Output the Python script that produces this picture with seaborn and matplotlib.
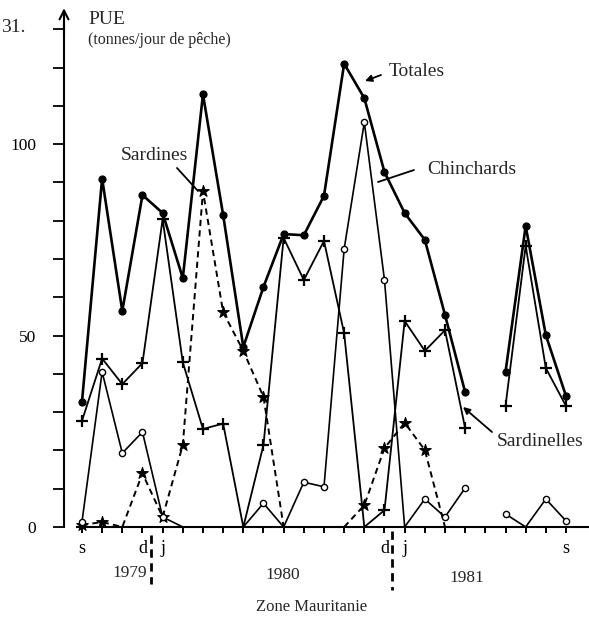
import numpy as np
import pandas as pd
import matplotlib
matplotlib.use("Agg")
import matplotlib.pyplot as plt
import seaborn as sns

nan = np.nan
# month index: 0 = Sept 1979 ... 24 = Sept 1981
months = list(range(25))
month_labels = ['s', '', '', 'd', 'j', '', '', '', '', '', '', '', '',
                '', '', 'd', 'j', '', '', '', '', '', '', '', 's']
years = ['1979', '1980', '1981']

totales = [32.6, 91, 56.4, 86.7, 82, 65, 113, 81.5, 47, 62.7, 76.5, 76.2, 86.5,
           121, 112, 92.7, 82, 75, 55.4, 35.2, nan, 40.5, 78.6, 50.1, 34.2]
sardinelles = [27.7, 44, 37.3, 42.8, 80.4, 43, 25.6, 27, 0, 21.4, 75.5, 64.5, 74.7,
               50.6, 0, 4.4, 53.8, 46, 51.4, 25.8, nan, 31.6, 73.4, 41.5, 31.6]
chinchards = [1.3, 40.5, 19.3, 24.8, 2.6, 0, nan, nan, 0, 6.2, 0, 11.7, 10.5,
              72.6, 105.7, 64.5, 0, 7.3, 2.6, 10.2, nan, 3.4, 0, 7.3, 1.6]
sardines = [0.5, 1.3, 0, 14, 2.6, 21.4, 87.7, 56.1, 46, 34, 0, nan, nan,
            0, 5.7, 20.6, 27.2, 20.1, 0, nan, nan, nan, nan, nan, nan]

sns.set_theme(style="white")
plt.rcParams['font.family'] = ['Liberation Serif', 'DejaVu Serif']

W, H = 589, 618
fig = plt.figure(figsize=(W / 100, H / 100), dpi=100)
fig.patch.set_facecolor('white')
ax = fig.add_axes([64 / W, (H - 527) / H, (W - 64) / W, (527 - 12) / H])
ax.set_facecolor('white')


def fp(x, y):
    return (x / W, 1 - y / H)


def draw(values, ls, lw, marker, s, face, mlw, z):
    df = pd.DataFrame({'month': months, 'value': values})
    df['seg'] = df['value'].isna().cumsum()
    df = df.dropna()
    sns.lineplot(data=df, x='month', y='value', units='seg', estimator=None,
                 color='black', lw=lw, ls=ls, ax=ax, clip_on=False, zorder=z,
                 legend=False)
    pts = df[df['value'] > 0]
    if marker == '+':
        sns.scatterplot(data=pts, x='month', y='value', marker='+', s=s,
                        color='black', linewidth=mlw, ax=ax, clip_on=False,
                        zorder=z + 0.5, legend=False)
    else:
        sns.scatterplot(data=pts, x='month', y='value', marker=marker, s=s,
                        color=face, edgecolor='black', linewidth=mlw, ax=ax,
                        clip_on=False, zorder=z + 0.5, legend=False)


draw(sardines, (0, (3.2, 2.2)), 1.4, '*', 75, 'black', 0.8, 2)
draw(chinchards, '-', 1.2, 'o', 20, 'white', 1.0, 3)
draw(sardinelles, '-', 1.3, '+', 80, 'black', 1.6, 4)
draw(totales, '-', 1.9, 'o', 26, 'black', 0.8, 5)

ax.set_xlim(-0.89, 25.14)
ax.set_ylim(0, 134.5)
ax.set_xlabel('')
ax.set_ylabel('')

ax.set_xticks(months, labels=month_labels)
ax.set_yticks([0, 50, 100])
ax.set_yticks([v for v in range(10, 131, 10) if v % 50 != 0], minor=True)
ax.tick_params(axis='x', direction='out', length=4.5, width=1.4, pad=5,
               labelsize=13, bottom=True, color='black', labelcolor='black')
ax.tick_params(axis='y', which='both', direction='out', length=8, width=1.3,
               pad=12, labelsize=12.5, left=True, color='black',
               labelcolor='black')

for side in ['top', 'right']:
    ax.spines[side].set_visible(False)
ax.spines['left'].set_linewidth(1.5)
ax.spines['bottom'].set_linewidth(1.5)
ax.spines['left'].set_color('black')
ax.spines['bottom'].set_color('black')
ax.spines['left'].set_bounds(0, 133)
ax.spines['bottom'].set_bounds(-0.25, 25.14)

# arrow on top of y axis
ax.annotate('', xy=(0, 135.5), xytext=(0, 128), xycoords=('axes fraction', 'data'),
            arrowprops=dict(arrowstyle='->', lw=1.5, color='black',
                            mutation_scale=16, shrinkA=0, shrinkB=0),
            annotation_clip=False)

# year separators
for xs, y0, y1 in [(3.42, -2.0, -15.0), (15.38, -1.0, -16.5)]:
    ax.plot([xs, xs], [y0, y1], color='black', lw=2.0, ls=(0, (3, 2)),
            clip_on=False)

# texts
fig.text(*fp(1, 28), '31.', ha='left', va='center', fontsize=14)
fig.text(*fp(88, 19), 'PUE', ha='left', va='center', fontsize=14)
fig.text(*fp(88, 40), '(tonnes/jour de pêche)', ha='left', va='center', fontsize=11.5)
fig.text(*fp(154, 155), 'Sardines', ha='center', va='center', fontsize=14)
fig.text(*fp(417, 72), 'Totales', ha='center', va='center', fontsize=14)
fig.text(*fp(472, 170), 'Chinchards', ha='center', va='center', fontsize=14)
fig.text(*fp(540, 441), 'Sardinelles', ha='center', va='center', fontsize=14)
fig.text(*fp(130, 573), years[0], ha='center', va='center', fontsize=12.5)
fig.text(*fp(283, 575), years[1], ha='center', va='center', fontsize=12.5)
fig.text(*fp(467, 578), years[2], ha='center', va='center', fontsize=12.5)
fig.text(*fp(312, 607), 'Zone Mauritanie', ha='center', va='center', fontsize=12)

# pointers
arrows = [((177, 168), (198, 191), '-'),
          ((381, 75), (365, 81), '-|>'),
          ((414, 170), (378, 182), '-'),
          ((492, 432), (463, 407), '-|>')]
for (x0, y0), (x1, y1), st in arrows:
    fig.add_artist(matplotlib.patches.FancyArrowPatch(
        fp(x0, y0), fp(x1, y1), transform=fig.transFigure,
        arrowstyle=st, mutation_scale=10, lw=1.3, color='black',
        shrinkA=0, shrinkB=0))

fig.savefig('out.png', dpi=100, facecolor='white')
